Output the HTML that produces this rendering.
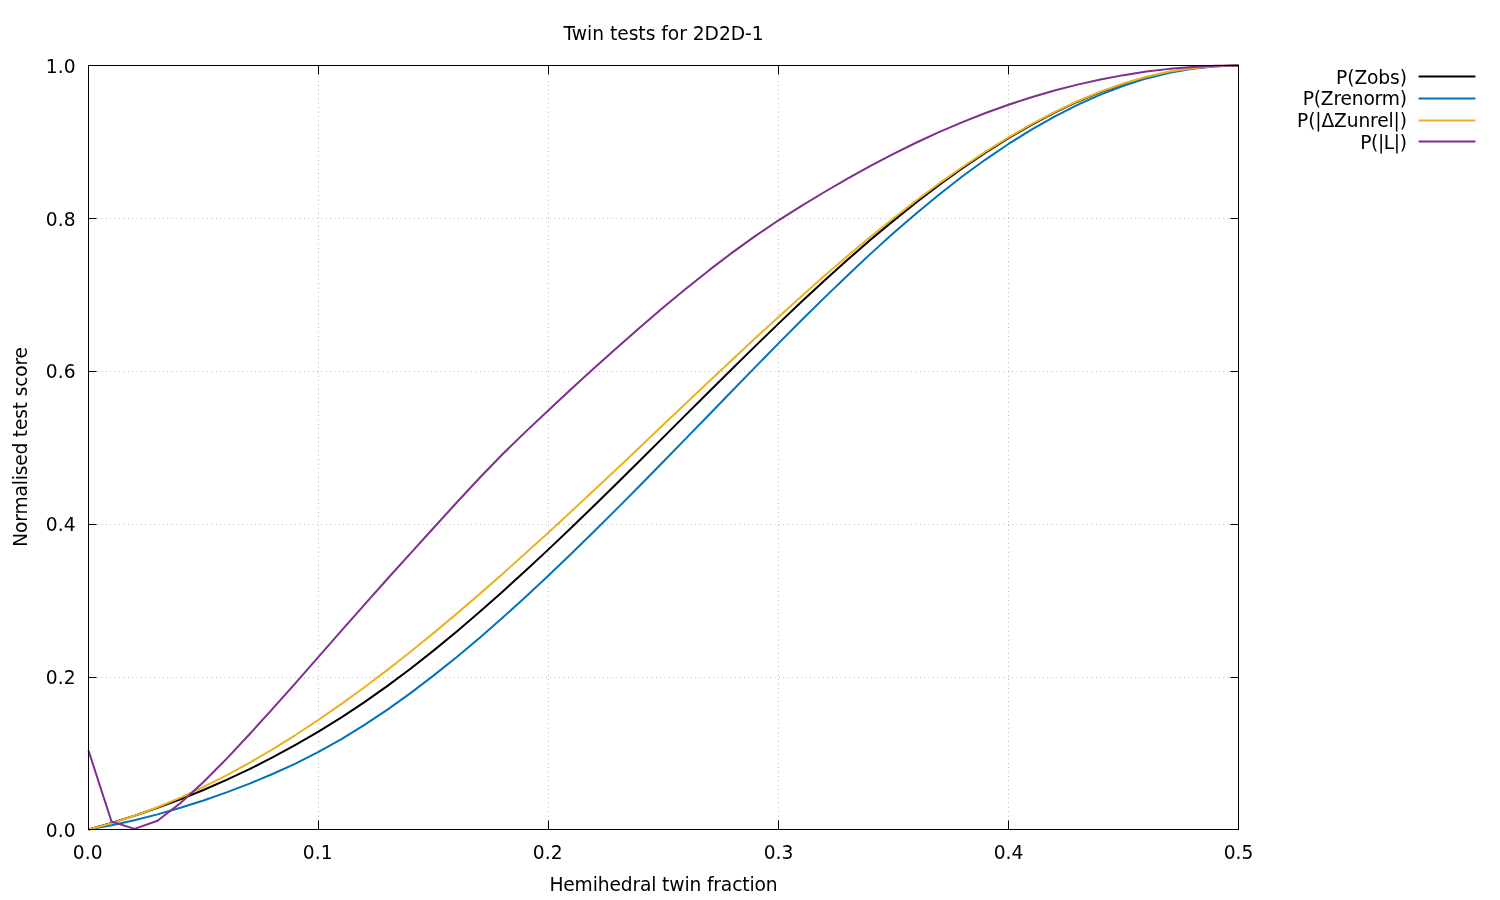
<!DOCTYPE html>
<html lang="en">
<head>
<meta charset="utf-8">
<title>Twin tests for 2D2D-1</title>
<style>
html,body{margin:0;padding:0;background:#fff;}
body{width:1500px;height:900px;overflow:hidden;}
svg{display:block;will-change:transform;}
text{font-family:"DejaVu Sans","Liberation Sans",sans-serif;font-size:18.667px;fill:#000;}
.grid{stroke:#000;stroke-opacity:0.65;stroke-width:1;stroke-dasharray:0.4 4;fill:none;}
.ax{stroke:#000;stroke-width:1;fill:none;}
.c{fill:none;stroke-width:2;stroke-linejoin:round;stroke-linecap:butt;}
</style>
</head>
<body>
<svg width="1500" height="900" viewBox="0 0 1500 900">
<rect x="0" y="0" width="1500" height="900" fill="#ffffff"/>
<text x="663.6" y="40" text-anchor="middle" textLength="200.2" lengthAdjust="spacing">Twin tests for 2D2D-1</text>
<g class="grid">
<line x1="88.5" y1="677.5" x2="1238.5" y2="677.5"/>
<line x1="88.5" y1="524.5" x2="1238.5" y2="524.5"/>
<line x1="88.5" y1="371.5" x2="1238.5" y2="371.5"/>
<line x1="88.5" y1="218.5" x2="1238.5" y2="218.5"/>
<line x1="318.5" y1="829.5" x2="318.5" y2="65.5"/>
<line x1="548.5" y1="829.5" x2="548.5" y2="65.5"/>
<line x1="778.5" y1="829.5" x2="778.5" y2="65.5"/>
<line x1="1008.5" y1="829.5" x2="1008.5" y2="65.5"/>
</g>
<polyline class="c" stroke="#000000" points="88.5,829.5 111.5,822.9 134.5,815.68 157.5,807.81 180.5,799.24 203.5,789.96 226.5,779.92 249.5,769.1 272.5,757.45 295.5,744.96 318.5,731.59 341.5,717.3 364.5,702.07 387.5,685.86 410.5,668.68 433.5,650.6 456.5,631.69 479.5,612.04 502.5,591.72 525.5,570.81 548.5,549.38 571.5,527.5 594.5,505.26 617.5,482.73 640.5,459.98 663.5,437.1 686.5,414.16 709.5,391.26 732.5,368.47 755.5,345.91 778.5,323.65 801.5,301.8 824.5,280.43 847.5,259.79 870.5,239.82 893.5,220.61 916.5,202.21 939.5,184.67 962.5,168.12 985.5,152.61 1008.5,138.2 1031.5,124.82 1054.5,112.64 1077.5,101.71 1100.5,92.09 1123.5,83.95 1146.5,77.22 1169.5,71.96 1192.5,68.37 1215.5,66.22 1238.5,65.5"/>
<polyline class="c" stroke="#0072bd" points="88.5,829.5 111.5,825.27 134.5,820.23 157.5,814.4 180.5,807.82 203.5,800.49 226.5,792.43 249.5,783.62 272.5,774.03 295.5,763.56 318.5,751.96 341.5,739.07 364.5,724.92 387.5,709.57 410.5,693.12 433.5,675.64 456.5,657.21 479.5,637.91 502.5,617.81 525.5,596.99 548.5,575.55 571.5,553.54 594.5,531.05 617.5,508.16 640.5,484.95 663.5,461.5 686.5,437.89 709.5,414.18 732.5,390.47 755.5,366.85 778.5,343.42 801.5,320.3 824.5,297.59 847.5,275.41 870.5,253.88 893.5,233.09 916.5,213.16 939.5,194.21 962.5,176.31 985.5,159.55 1008.5,143.96 1031.5,129.61 1054.5,116.56 1077.5,104.85 1100.5,94.56 1123.5,85.72 1146.5,78.41 1169.5,72.68 1192.5,68.69 1215.5,66.3 1238.5,65.5"/>
<polyline class="c" stroke="#edb120" points="88.5,829.5 111.5,823.19 134.5,815.75 157.5,807.21 180.5,797.6 203.5,786.98 226.5,775.37 249.5,762.81 272.5,749.36 295.5,735.03 318.5,719.88 341.5,703.94 364.5,687.25 387.5,669.85 410.5,651.78 433.5,633.11 456.5,613.87 479.5,594.13 502.5,573.94 525.5,553.35 548.5,532.43 571.5,511.22 594.5,489.77 617.5,468.15 640.5,446.41 663.5,424.59 686.5,402.77 709.5,381.03 732.5,359.42 755.5,338.03 778.5,316.92 801.5,296.17 824.5,275.84 847.5,256.02 870.5,236.78 893.5,218.17 916.5,200.29 939.5,183.19 962.5,166.96 985.5,151.65 1008.5,137.36 1031.5,124.14 1054.5,112.07 1077.5,101.22 1100.5,91.66 1123.5,83.47 1146.5,76.71 1169.5,71.46 1192.5,68.15 1215.5,66.16 1238.5,65.5"/>
<polyline class="c" stroke="#7e2f8e" points="88.5,750.5 111.5,821.48 134.5,828.89 157.5,820.79 180.5,802.99 203.5,782.01 226.5,758.85 249.5,734.29 272.5,708.93 295.5,683.05 318.5,656.87 341.5,630.63 364.5,604.55 387.5,578.79 410.5,553.3 433.5,527.98 456.5,502.76 479.5,478 502.5,454.32 525.5,431.89 548.5,410.2 571.5,388.85 594.5,367.81 617.5,347.15 640.5,326.94 663.5,307.27 686.5,288.23 709.5,269.91 732.5,252.41 755.5,235.83 778.5,220.28 801.5,205.78 824.5,192.01 847.5,178.73 870.5,165.99 893.5,153.89 916.5,142.51 939.5,131.91 962.5,122.07 985.5,113.02 1008.5,104.74 1031.5,97.24 1054.5,90.53 1077.5,84.61 1100.5,79.48 1123.5,75.14 1146.5,71.6 1169.5,68.87 1192.5,67 1215.5,65.87 1238.5,65.5"/>
<g class="ax">
<path d="M88.5 829.5h8 M1238.5 829.5h-8 M88.5 677.5h8 M1238.5 677.5h-8 M88.5 524.5h8 M1238.5 524.5h-8 M88.5 371.5h8 M1238.5 371.5h-8 M88.5 218.5h8 M1238.5 218.5h-8 M88.5 65.5h8 M1238.5 65.5h-8 M88.5 829.5v-9 M88.5 65.5v9 M318.5 829.5v-9 M318.5 65.5v9 M548.5 829.5v-9 M548.5 65.5v9 M778.5 829.5v-9 M778.5 65.5v9 M1008.5 829.5v-9 M1008.5 65.5v9 M1238.5 829.5v-9 M1238.5 65.5v9"/>
<rect x="88.5" y="65.5" width="1150" height="764"/>
</g>
<text x="75.5" y="836.5" text-anchor="end">0.0</text>
<text x="75.5" y="683.5" text-anchor="end">0.2</text>
<text x="75.5" y="530.5" text-anchor="end">0.4</text>
<text x="75.5" y="377.5" text-anchor="end">0.6</text>
<text x="75.5" y="225.5" text-anchor="end">0.8</text>
<text x="75.5" y="72.5" text-anchor="end">1.0</text>
<text x="87.7" y="858.5" text-anchor="middle">0.0</text>
<text x="317.7" y="858.5" text-anchor="middle">0.1</text>
<text x="547.7" y="858.5" text-anchor="middle">0.2</text>
<text x="778.6" y="858.5" text-anchor="middle">0.3</text>
<text x="1008.6" y="858.5" text-anchor="middle">0.4</text>
<text x="1238.6" y="858.5" text-anchor="middle">0.5</text>
<text x="663.5" y="890.5" text-anchor="middle" textLength="228.2" lengthAdjust="spacing">Hemihedral twin fraction</text>
<text transform="translate(27,446.8) rotate(-90)" text-anchor="middle" textLength="199.7" lengthAdjust="spacing">Normalised test score</text>
<text x="1407" y="83.5" text-anchor="end" textLength="70.91" lengthAdjust="spacing">P(Zobs)</text>
<line x1="1419.4" y1="76.5" x2="1474.6" y2="76.5" stroke="#000000" stroke-width="2" stroke-linecap="round"/>
<text x="1407" y="104.5" text-anchor="end" textLength="104.28" lengthAdjust="spacing">P(Zrenorm)</text>
<line x1="1419.4" y1="98.5" x2="1474.6" y2="98.5" stroke="#0072bd" stroke-width="2" stroke-linecap="round"/>
<text x="1407" y="126.5" text-anchor="end" textLength="109.97" lengthAdjust="spacing">P(|ΔZunrel|)</text>
<line x1="1419.4" y1="120.5" x2="1474.6" y2="120.5" stroke="#edb120" stroke-width="2" stroke-linecap="round"/>
<text x="1407" y="148.5" text-anchor="end" textLength="46.8" lengthAdjust="spacing">P(|L|)</text>
<line x1="1419.4" y1="141.5" x2="1474.6" y2="141.5" stroke="#7e2f8e" stroke-width="2" stroke-linecap="round"/>
</svg>
</body>
</html>
